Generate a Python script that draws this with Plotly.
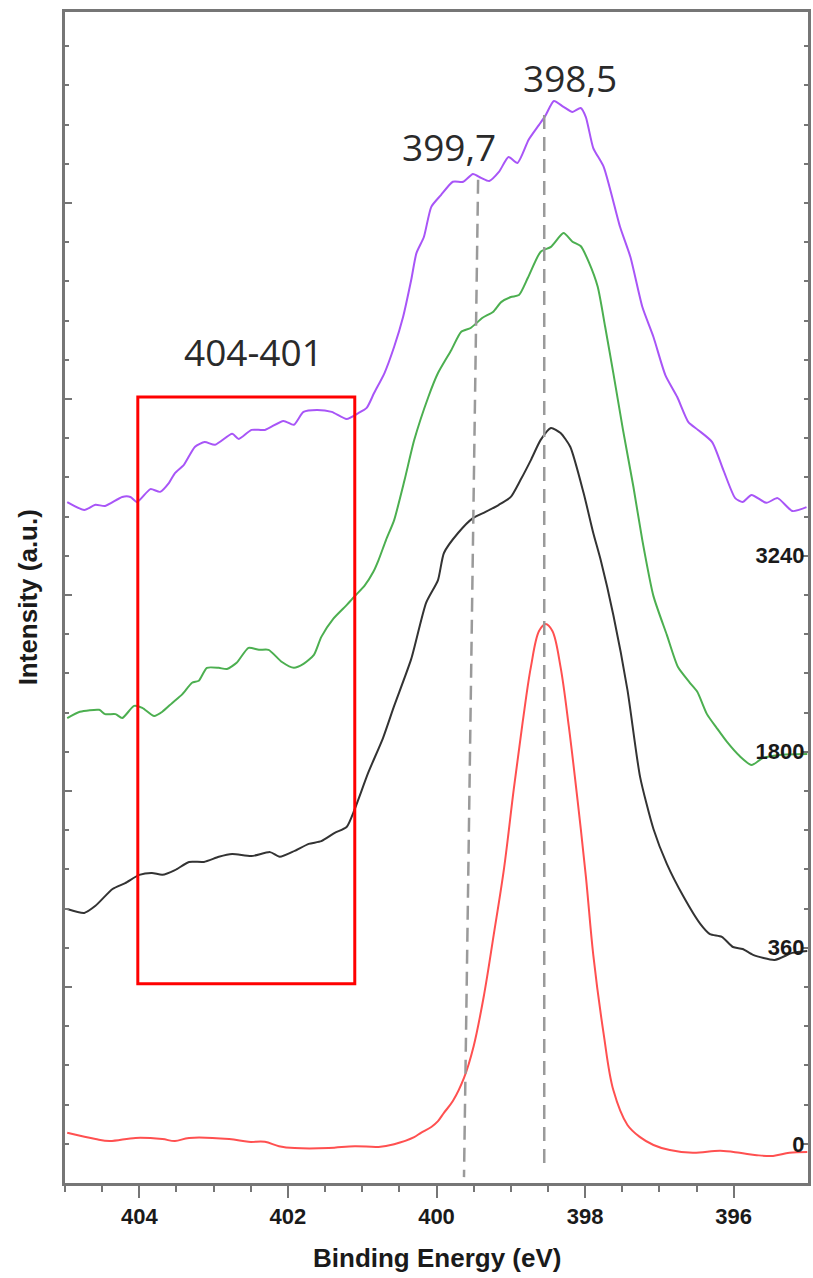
import plotly.graph_objects as go

# ---- data (binding energy in eV, intensity in arbitrary stacked units) ----
be_purple = [404.97, 404.74, 404.59, 404.46, 404.23, 404.12, 404.03, 403.85, 403.72, 403.60,
             403.52, 403.40, 403.25, 403.12, 402.98, 402.75, 402.66, 402.49, 402.31, 402.06,
             401.92, 401.79, 401.61, 401.41, 401.21, 401.05, 400.94, 400.84, 400.70, 400.57,
             400.45, 400.34, 400.27, 400.17, 400.07, 399.94, 399.78, 399.64, 399.51, 399.40,
             399.29, 399.16, 399.03, 398.91, 398.76, 398.62, 398.53, 398.42, 398.29, 398.17,
             398.06, 397.99, 397.89, 397.75, 397.53, 397.39, 397.23, 397.08, 396.92, 396.76,
             396.61, 396.48, 396.29, 396.14, 395.98, 395.88, 395.76, 395.56, 395.41, 395.21, 395.02]
i_purple = [17.37, 17.17, 17.30, 17.27, 17.50, 17.50, 17.37, 17.70, 17.63, 17.86,
            18.11, 18.32, 18.78, 18.90, 18.83, 19.11, 18.98, 19.21, 19.21, 19.44,
            19.34, 19.67, 19.72, 19.67, 19.49, 19.64, 19.77, 20.15, 20.66, 21.33,
            22.09, 23.04, 23.72, 24.13, 24.90, 25.20, 25.54, 25.54, 25.74, 25.64,
            25.56, 25.79, 26.17, 26.02, 26.61, 26.99, 27.24, 27.60, 27.45, 27.32,
            27.42, 27.19, 26.40, 25.92, 24.39, 23.62, 22.35, 21.58, 20.61, 20.05,
            19.41, 19.21, 18.90, 18.19, 17.47, 17.37, 17.55, 17.35, 17.47, 17.14, 17.24]

be_green = [404.97, 404.80, 404.54, 404.46, 404.32, 404.23, 404.07, 403.96, 403.80, 403.69,
            403.56, 403.42, 403.29, 403.20, 403.09, 402.93, 402.82, 402.69, 402.53, 402.39,
            402.26, 402.08, 401.92, 401.79, 401.65, 401.55, 401.39, 401.21, 401.10, 400.97,
            400.85, 400.78, 400.68, 400.57, 400.43, 400.30, 400.11, 399.98, 399.80, 399.67,
            399.54, 399.38, 399.24, 399.13, 399.00, 398.89, 398.77, 398.60, 398.46, 398.29,
            398.17, 398.06, 397.95, 397.83, 397.73, 397.62, 397.49, 397.35, 397.23, 397.08,
            396.90, 396.75, 396.59, 396.49, 396.36, 396.23, 396.09, 395.92, 395.76, 395.61,
            395.38, 395.01]
i_green = [11.86, 12.02, 12.07, 11.96, 11.96, 11.86, 12.17, 12.12, 11.91, 12.02,
           12.24, 12.47, 12.76, 12.81, 13.14, 13.14, 13.11, 13.27, 13.65, 13.60,
           13.60, 13.29, 13.14, 13.24, 13.47, 13.93, 14.39, 14.74, 14.97, 15.23,
           15.59, 15.89, 16.40, 16.91, 17.93, 18.95, 20.05, 20.66, 21.25, 21.71,
           21.81, 22.07, 22.22, 22.47, 22.60, 22.65, 23.09, 23.75, 23.88, 24.23,
           24.01, 23.90, 23.49, 22.86, 21.84, 20.66, 19.21, 17.76, 16.40, 14.97,
           13.98, 13.16, 12.76, 12.53, 11.96, 11.61, 11.25, 10.89, 10.66, 10.84,
           10.92, 10.94]

be_black = [404.97, 404.74, 404.59, 404.36, 404.19, 404.00, 403.83, 403.69, 403.52, 403.33,
            403.13, 402.93, 402.75, 402.49, 402.24, 402.11, 401.91, 401.72, 401.55, 401.37,
            401.21, 401.10, 400.92, 400.72, 400.57, 400.34, 400.14, 399.98, 399.90, 399.71,
            399.51, 399.34, 399.16, 399.00, 398.87, 398.73, 398.60, 398.46, 398.33, 398.20,
            398.02, 397.89, 397.79, 397.62, 397.43, 397.26, 397.08, 396.90, 396.68, 396.45,
            396.32, 396.16, 396.01, 395.88, 395.74, 395.45, 395.21, 395.01]
i_black = [6.99, 6.89, 7.07, 7.50, 7.65, 7.86, 7.91, 7.86, 7.98, 8.19,
           8.19, 8.32, 8.39, 8.34, 8.44, 8.32, 8.47, 8.65, 8.72, 8.93,
           9.08, 9.54, 10.46, 11.35, 12.17, 13.37, 14.80, 15.38, 16.07, 16.58,
           16.96, 17.12, 17.30, 17.50, 17.93, 18.44, 18.95, 19.26, 19.13, 18.78,
           17.60, 16.58, 15.89, 14.49, 12.58, 10.36, 9.03, 8.14, 7.32, 6.61,
           6.35, 6.28, 6.02, 5.97, 5.82, 5.69, 5.87, 5.92]

be_red = [404.97, 404.59, 404.40, 404.05, 403.69, 403.52, 403.33, 402.79, 402.53, 402.31,
          402.12, 401.91, 401.45, 401.10, 400.78, 400.57, 400.30, 400.21, 400.07, 399.98,
          399.90, 399.78, 399.63, 399.50, 399.36, 399.23, 399.09, 398.96, 398.84, 398.73,
          398.62, 398.53, 398.44, 398.33, 398.22, 398.10, 397.99, 397.89, 397.75, 397.62,
          397.43, 397.26, 397.08, 396.86, 396.55, 396.18, 395.92, 395.69, 395.47, 395.25, 395.01]
i_red = [1.28, 1.12, 1.07, 1.15, 1.12, 1.07, 1.15, 1.12, 1.05, 1.05,
         0.94, 0.89, 0.89, 0.94, 0.92, 0.99, 1.17, 1.28, 1.43, 1.58,
         1.79, 2.09, 2.68, 3.49, 4.80, 6.33, 8.04, 10.05, 11.76, 13.16,
         14.08, 14.26, 14.08, 13.16, 11.66, 9.74, 7.83, 5.82, 3.80, 2.37,
         1.48, 1.17, 0.97, 0.84, 0.77, 0.82, 0.77, 0.71, 0.69, 0.77, 0.79]

x_tick_vals = [404, 402, 400, 398, 396]
x_tick_text = ["404", "402", "400", "398", "396"]
series_offsets = [1, 6, 11, 16]
series_labels = ["0", "360", "1800", "3240"]

AX = "#767676"
LABEL_FONT = dict(family="Liberation Sans", size=22, color="#1a1a1a", weight="bold")

fig = go.Figure()
for be, it, col, sm in [(be_purple, i_purple, "#A855F7", 0.6),
                        (be_green, i_green, "#4CAF50", 0.6),
                        (be_black, i_black, "#333333", 0.6)]:
    fig.add_trace(go.Scatter(x=be, y=it, mode="lines",
                             line=dict(color=col, width=2, shape="spline", smoothing=sm),
                             showlegend=False, hoverinfo="skip"))
fig.add_trace(go.Scatter(x=be_red, y=i_red, mode="lines", yaxis="y2",
                         line=dict(color="#FF5050", width=2, shape="spline", smoothing=1.0),
                         showlegend=False, hoverinfo="skip"))

YR = [0, 29.87]
fig.update_layout(
    width=813, height=1278,
    margin=dict(l=65, r=5, t=12, b=95),
    plot_bgcolor="white", paper_bgcolor="white",
    xaxis=dict(range=[405, 395], tickmode="array", tickvals=x_tick_vals, ticktext=x_tick_text,
               ticks="outside", ticklen=12, tickwidth=2, tickcolor=AX,
               showline=True, linecolor=AX, linewidth=3, mirror=True,
               showgrid=False, zeroline=False, tickfont=LABEL_FONT,
               minor=dict(tickmode="linear", tick0=395, dtick=0.5, ticks="outside",
                          ticklen=6, tickwidth=2, tickcolor=AX)),
    yaxis=dict(range=YR, showticklabels=False, ticks="inside", tick0=0, dtick=5,
               ticklen=7, tickwidth=2, tickcolor=AX, showline=True, linecolor=AX,
               linewidth=3, showgrid=False, zeroline=False,
               minor=dict(tickmode="linear", tick0=0, dtick=1, ticks="inside",
                          ticklen=4, tickwidth=2, tickcolor=AX)),
    yaxis2=dict(range=YR, overlaying="y", side="right", tickmode="array",
                tickvals=series_offsets, ticktext=series_labels,
                ticks="inside", ticklabelposition="inside", ticklen=5, tickwidth=2,
                tickcolor=AX, showline=True, linecolor=AX, linewidth=3,
                showgrid=False, zeroline=False, tickfont=LABEL_FONT,
                minor=dict(tickmode="linear", tick0=0, dtick=1, ticks="inside",
                           ticklen=4, tickwidth=2, tickcolor=AX)),
    shapes=[
        dict(type="rect", xref="x", yref="y", x0=404.02, x1=401.1, y0=5.08, y1=20.05,
             line=dict(color="#FF0000", width=3)),
        dict(type="line", xref="x", yref="y", x0=399.44, y0=25.59, x1=399.63, y1=0.15,
             line=dict(color="#9a9a9a", width=2.5, dash="14px,8px")),
        dict(type="line", xref="x", yref="y", x0=398.55, y0=27.24, x1=398.55, y1=0.46,
             line=dict(color="#9a9a9a", width=2.5, dash="14px,8px")),
    ],
    annotations=[
        dict(text="Binding Energy (eV)", xref="paper", yref="paper", x=0.5, y=-0.064,
             showarrow=False, xanchor="center", yanchor="middle",
             font=dict(family="Liberation Sans", size=26, color="#1a1a1a", weight="bold")),
        dict(text="Intensity (a.u.)", xref="paper", yref="paper", x=-0.05, y=0.5,
             textangle=-90, showarrow=False, xanchor="center", yanchor="middle",
             font=dict(family="Liberation Sans", size=26, color="#1a1a1a", weight="bold")),
        dict(text="398,5", xref="x", yref="y", x=398.20, y=28.19, showarrow=False,
             font=dict(family="Open Sans", size=37, color="#2a2a2a")),
        dict(text="399,7", xref="x", yref="y", x=399.83, y=26.43, showarrow=False,
             font=dict(family="Open Sans", size=37, color="#2a2a2a")),
        dict(text="404-401", xref="x", yref="y", x=402.46, y=21.22, showarrow=False,
             font=dict(family="Open Sans", size=37, color="#2a2a2a")),
    ],
)

fig.write_html("out.html")
